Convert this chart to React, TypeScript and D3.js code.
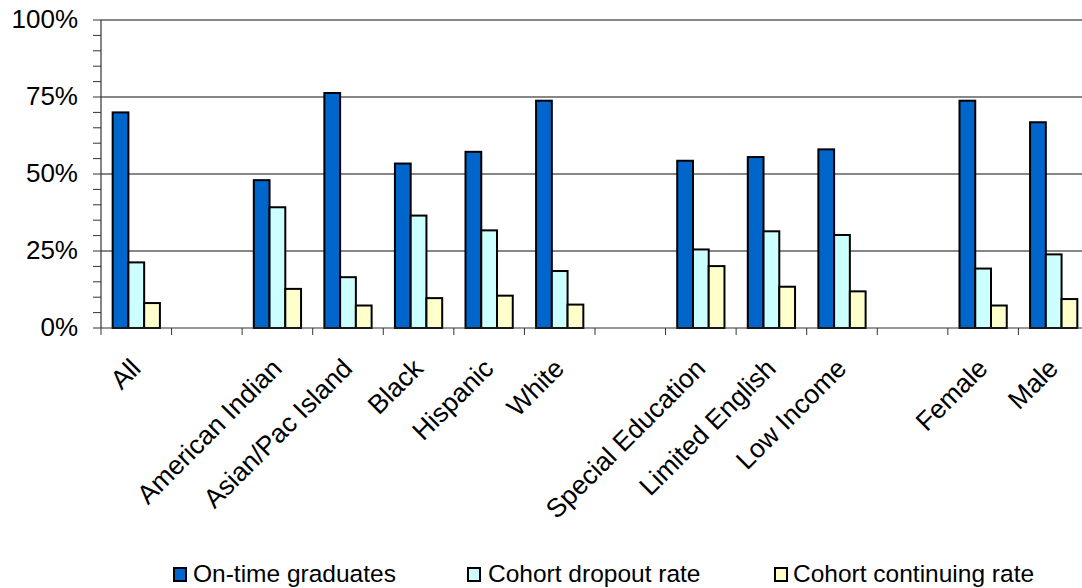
import React from "react";
import * as d3 from "d3";

const categories = ["All", "", "American Indian", "Asian/Pac Island", "Black", "Hispanic", "White", "", "Special Education", "Limited English", "Low Income", "", "Female", "Male"];
const onTime = [70.0, null, 48.0, 76.3, 53.4, 57.2, 73.8, null, 54.3, 55.5, 58.0, null, 73.8, 66.8];
const dropout = [21.3, null, 39.2, 16.5, 36.5, 31.7, 18.5, null, 25.5, 31.4, 30.2, null, 19.3, 23.9];
const continuing = [8.1, null, 12.7, 7.3, 9.7, 10.5, 7.6, null, 20.1, 13.4, 11.9, null, 7.3, 9.4];
const seriesNames = ["On-time graduates", "Cohort dropout rate", "Cohort continuing rate"];
const seriesColors = ["#0066CC", "#CCFFFF", "#FFFFCC"];
const yTicks = [0, 25, 50, 75, 100];
const yMinorTicks = d3.range(0, 101, 5);

const W = 1082;
const H = 588;
const FONT = "'Liberation Sans', Arial, sans-serif";

export default function App() {
  const left = 101;
  const right = 101 + 14 * 70.57;
  const top = 20;
  const bottom = 328;
  const series = [onTime, dropout, continuing];

  const x = d3.scaleBand<number>().domain(d3.range(categories.length)).range([left, right]).padding(0);
  const xs = d3.scaleBand<number>().domain([0, 1, 2]).range([0, x.bandwidth()]).paddingInner(0).paddingOuter(0.74);
  const y = d3.scaleLinear().domain([0, 100]).range([bottom, top]);

  const legendItems = [
    { sx: 174, tx: 193 },
    { sx: 468, tx: 488 },
    { sx: 775, tx: 793 },
  ];

  return (
    <svg width={W} height={H} style={{ position: "absolute", left: 0, top: 0, background: "#fff", fontFamily: FONT }}>
      {yTicks.filter((t) => t > 0).map((t) => (
        <line key={"g" + t} x1={left} x2={W} y1={y(t)} y2={y(t)} stroke="#111" strokeWidth={1.2} />
      ))}
      {yMinorTicks.map((t) => (
        <line key={"m" + t} x1={left - 8} x2={left} y1={y(t)} y2={y(t)} stroke="#333" strokeWidth={1} />
      ))}
      {yTicks.map((t) => (
        <text key={"yl" + t} x={78} y={y(t) + 1} textAnchor="end" dominantBaseline="middle" fontSize={26} fill="#000">
          {t + "%"}
        </text>
      ))}
      {categories.map((c, i) => (
        <g key={"c" + i}>
          {series.map((s, k) =>
            s[i] == null ? null : (
              <rect
                key={k}
                x={(x(i) as number) + (xs(k) as number)}
                y={y(s[i] as number)}
                width={xs.bandwidth()}
                height={y(0) - y(s[i] as number)}
                fill={seriesColors[k]}
                stroke="#000"
                strokeWidth={2}
              />
            )
          )}
        </g>
      ))}
      <line x1={left} x2={left} y1={top} y2={bottom} stroke="#333" strokeWidth={1.2} />
      <line x1={left} x2={W} y1={bottom} y2={bottom} stroke="#333" strokeWidth={1.2} />
      {d3.range(categories.length + 1).map((i) => {
        const xx = left + i * x.step();
        return <line key={"xt" + i} x1={xx} x2={xx} y1={bottom} y2={bottom + 7} stroke="#333" strokeWidth={1} />;
      })}
      {categories.map((c, i) =>
        c === "" ? null : (
          <text
            key={"xl" + i}
            transform={`translate(${(x(i) as number) + x.bandwidth() / 2 + 6},${370}) rotate(-45)`}
            textAnchor="end"
            fontSize={26.5}
            fill="#000"
          >
            {c}
          </text>
        )
      )}
      {seriesNames.map((n, k) => (
        <g key={"lg" + k}>
          <rect x={legendItems[k].sx} y={568} width={12} height={13} fill={seriesColors[k]} stroke="#000" strokeWidth={2} />
          <text x={legendItems[k].tx} y={582} fontSize={24.5} fill="#000">
            {n}
          </text>
        </g>
      ))}
    </svg>
  );
}
